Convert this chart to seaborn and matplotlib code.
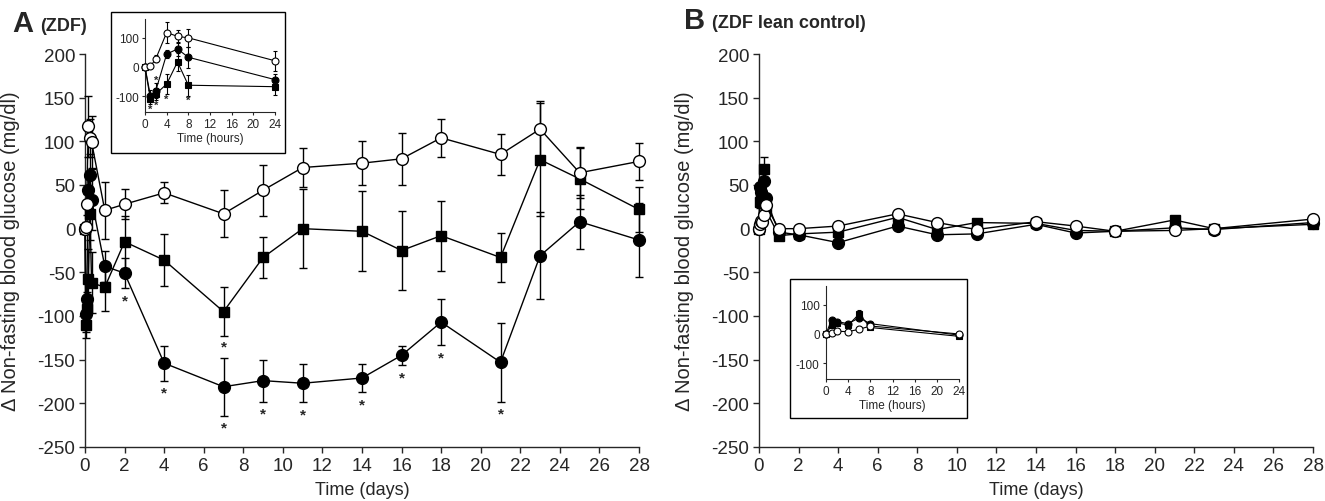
import numpy as np
import seaborn as sns
import matplotlib.pyplot as plt
from matplotlib.patches import Rectangle

# sampling times
HOURS = [0, 1, 2, 4, 6, 8, 24]
DAYS_A = [2, 4, 7, 9, 11, 14, 16, 18, 21, 23, 25, 28]
DAYS_B = [2, 4, 7, 9, 11, 14, 16, 18, 21, 23, 28]

# panel A (ZDF) - first 24 h, change in glucose (mg/dl)
a_open_hr = [0, 2, 28, 117, 104, 99, 21]
a_open_hr_sd = [0, 6, 12, 35, 22, 30, 33]
a_circ_hr = [0, -98, -80, 44, 61, 33, -43]
a_circ_hr_sd = [0, 20, 25, 15, 25, 35, 18]
a_sq_hr = [0, -110, -92, -58, 17, -62, -67]
a_sq_hr_sd = [0, 15, 20, 35, 30, 35, 27]

# panel A (ZDF) - days 2..28
a_open = [28, 41, 17, 44, 70, 75, 80, 104, 85, 114, 64, 77]
a_open_sd = [17, 12, 27, 29, 22, 25, 30, 22, 23, 32, 29, 21]
a_circ = [-51, -154, -181, -174, -177, -171, -145, -107, -153, -31, 8, -13]
a_circ_sd = [17, 20, 33, 24, 22, 16, 11, 26, 45, 50, 31, 42]
a_sq = [-15, -36, -95, -33, 0, -3, -25, -8, -33, 79, 57, 22]
a_sq_sd = [30, 30, 28, 23, 45, 46, 45, 40, 28, 65, 35, 26]

# significance marks (days where filled symbols differ)
a_star_circ_days = [2, 4, 7, 9, 11, 14, 16, 18, 21]
a_star_sq_days = [7]
a_star_sq_hours = [1, 2, 4, 8]

# panel B (ZDF lean control) - first 24 h
b_open_hr = [0, 5, 9, 8, 16, 27, 0]
b_circ_hr = [0, 48, 42, 35, 55, 35, -4]
b_sq_hr = [0, 30, 38, 30, 68, 22, -8]
b_sq_hr_sd = [0, 6, 6, 6, 14, 6, 4]

# panel B - days 2..28
b_open = [0, 3, 17, 7, -1, 8, 3, -3, -2, 0, 11]
b_circ = [-7, -16, 3, -7, -6, 5, -5, -3, 1, -1, 7]
b_sq = [-6, -4, 13, -1, 7, 6, -2, -3, 10, 0, 5]

W, H = 1325, 502
sns.set_style("ticks")
plt.rcParams['font.family'] = ['Liberation Sans', 'DejaVu Sans']
plt.rcParams['axes.unicode_minus'] = False

fig = plt.figure(figsize=(W / 100, H / 100), dpi=100)


def series(hr_vals, day_vals, days):
    x = [h / 24 for h in HOURS] + list(days)
    y = list(hr_vals) + list(day_vals)
    return np.array(x), np.array(y)


def draw(ax, x, y, sd, marker, face, ms, lw, cap, z):
    if sd is not None:
        ax.errorbar(x, y, yerr=sd, fmt='none', ecolor='black', elinewidth=lw,
                    capsize=cap, capthick=lw, zorder=z - 1, clip_on=False)
    sns.lineplot(x=x, y=y, ax=ax, color='black', lw=lw, marker=marker,
                 markersize=ms, markerfacecolor=face, markeredgecolor='black',
                 markeredgewidth=lw, sort=False, errorbar=None, zorder=z,
                 clip_on=False)


def main_axes(ax):
    ax.set_xlim(0, 28)
    ax.set_ylim(-250, 200)
    ax.set_xticks(range(0, 29, 2))
    ax.set_yticks(range(-250, 201, 50))
    sns.despine(ax=ax)
    for s in ['left', 'bottom']:
        ax.spines[s].set_linewidth(1)
    ax.tick_params(direction='out', length=4, width=1, labelsize=13.5, pad=3)
    ax.set_xlabel('Time (days)', fontsize=13, labelpad=5)
    ax.set_ylabel('\u0394 Non-fasting blood glucose (mg/dl)', fontsize=14.5)
    ax.yaxis.set_label_coords(-0.118, 0.5)


def inset_axes(rect, box):
    l, t, w, h = rect
    ia = fig.add_axes([l / W, 1 - (t + h) / H, w / W, h / H])
    bl, bt, bw, bh = box
    fig.patches.append(Rectangle((bl / W, 1 - (bt + bh) / H), bw / W, bh / H,
                                 transform=fig.transFigure, fill=False,
                                 lw=1, ec='black', zorder=5))
    ia.set_xlim(0, 24)
    ia.set_ylim(-153, 163)
    ia.set_xticks(range(0, 25, 4))
    ia.set_yticks([-100, 0, 100])
    sns.despine(ax=ia)
    ia.tick_params(direction='out', length=2.5, width=0.8, labelsize=8.5, pad=2)
    ia.set_xlabel('Time (hours)', fontsize=8.5, labelpad=1)
    ia.patch.set_alpha(0)
    return ia


# ---------------- panel A ----------------
axA = fig.add_axes([85 / W, 1 - 448 / H, 554 / W, 393 / H])
x, y = series(a_sq_hr, a_sq, DAYS_A)
sq_sd = np.array(a_sq_hr_sd + a_sq_sd)
draw(axA, x, y, sq_sd, 's', 'black', 7, 1.0, 3, 4)
xc, yc = series(a_circ_hr, a_circ, DAYS_A)
circ_sd = np.array(a_circ_hr_sd + a_circ_sd)
draw(axA, xc, yc, circ_sd, 'o', 'black', 8.5, 1.0, 3, 6)
xo, yo = series(a_open_hr, a_open, DAYS_A)
draw(axA, xo, yo, np.array(a_open_hr_sd + a_open_sd), 'o', 'white', 8.5, 1.0, 3, 8)
main_axes(axA)

for d in a_star_circ_days:
    i = list(xc).index(d)
    axA.text(d, yc[i] - circ_sd[i] - 14, '*', ha='center', va='center',
             fontsize=11, fontweight='bold')
for d in a_star_sq_days:
    i = list(x).index(d)
    axA.text(d, y[i] - sq_sd[i] - 12, '*', ha='center', va='center',
             fontsize=11, fontweight='bold')

fig.text(12 / W, 1 - 32 / H, 'A', fontsize=21, fontweight='bold')
fig.text(40 / W, 1 - 31 / H, '(ZDF)', fontsize=13, fontweight='bold')

# inset A
iA = inset_axes((145, 20, 130, 93), (111, 13, 174, 141))
draw(iA, HOURS, a_sq_hr, a_sq_hr_sd, 's', 'black', 4.5, 0.8, 1.5, 4)
draw(iA, HOURS, a_circ_hr, a_circ_hr_sd, 'o', 'black', 5, 0.8, 1.5, 6)
draw(iA, HOURS, a_open_hr, a_open_hr_sd, 'o', 'white', 5, 0.8, 1.5, 8)
for h in a_star_sq_hours:
    i = HOURS.index(h)
    iA.text(h, a_sq_hr[i] - a_sq_hr_sd[i] - 16, '*', ha='center', va='center',
            fontsize=8, fontweight='bold')
iA.text(2, a_circ_hr[2] + a_circ_hr_sd[2] + 12, '*', ha='center', va='center',
        fontsize=8, fontweight='bold')

# ---------------- panel B ----------------
axB = fig.add_axes([759 / W, 1 - 448 / H, 554 / W, 393 / H])
x, y = series(b_sq_hr, b_sq, DAYS_B)
draw(axB, x, y, np.array(b_sq_hr_sd + [0] * len(DAYS_B)), 's', 'black', 7, 1.0, 3, 4)
x, y = series(b_circ_hr, b_circ, DAYS_B)
draw(axB, x, y, None, 'o', 'black', 8.5, 1.0, 3, 6)
x, y = series(b_open_hr, b_open, DAYS_B)
draw(axB, x, y, None, 'o', 'white', 8.5, 1.0, 3, 8)
main_axes(axB)

fig.text(684 / W, 1 - 29 / H, 'B', fontsize=21, fontweight='bold')
fig.text(712 / W, 1 - 28 / H, '(ZDF lean control)', fontsize=13, fontweight='bold')

# inset B
iB = inset_axes((826, 287, 133, 93), (790, 280, 177, 139))
draw(iB, HOURS, b_sq_hr, b_sq_hr_sd, 's', 'black', 4.5, 0.8, 1.5, 4)
draw(iB, HOURS, b_circ_hr, None, 'o', 'black', 5, 0.8, 1.5, 6)
draw(iB, HOURS, b_open_hr, None, 'o', 'white', 5, 0.8, 1.5, 8)

plt.savefig('out.png', dpi=100)
